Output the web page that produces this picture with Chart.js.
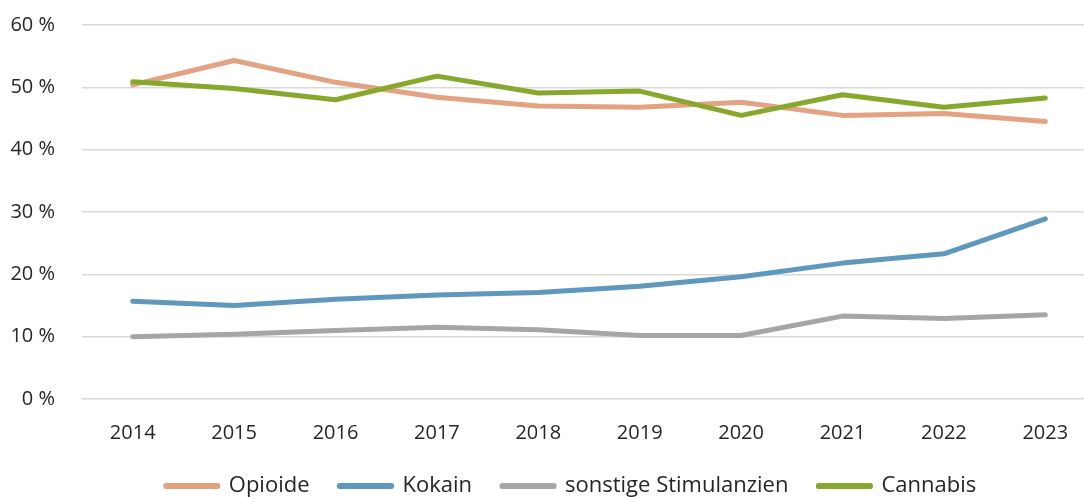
<!DOCTYPE html>
<html>
<head>
<meta charset="utf-8">
<script src="https://cdn.jsdelivr.net/npm/chart.js@4/dist/chart.umd.min.js"></script>
<style>
  html, body { margin: 0; padding: 0; background: #fff; overflow: hidden; }
  #wrap { width: 1084px; height: 497px; overflow: hidden; position: relative; }
  canvas { display: block; }
</style>
</head>
<body>
<div id="wrap"><canvas id="c" width="1096" height="507"></canvas></div>
<script>
const years = ['2014','2015','2016','2017','2018','2019','2020','2021','2022','2023'];
const opioide = [50.4, 54.3, 50.8, 48.4, 47.0, 46.8, 47.6, 45.5, 45.8, 44.5];
const kokain = [15.7, 15.0, 16.0, 16.7, 17.1, 18.1, 19.6, 21.8, 23.3, 28.9];
const stimulanzien = [10.0, 10.4, 11.0, 11.5, 11.1, 10.2, 10.2, 13.3, 12.9, 13.5];
const cannabis = [50.9, 49.8, 48.0, 51.8, 49.1, 49.4, 45.5, 48.8, 46.8, 48.3];
const seriesNames = ['Opioide', 'Kokain', 'sonstige Stimulanzien', 'Cannabis'];
const seriesColors = ['#E3A382', '#5F98BE', '#A6A6A6', '#87A82C'];
const yTicks = [0, 10, 20, 30, 40, 50, 60];

const FONT = '"Open Sans", "Noto Sans", sans-serif';
const seriesData = [opioide, kokain, stimulanzien, cannabis];
const drawOrder = [1, 3, 2, 0];

const datasets = seriesNames.map((name, i) => ({
  label: name,
  data: seriesData[i],
  borderColor: seriesColors[i],
  backgroundColor: seriesColors[i],
  borderWidth: 5,
  borderCapStyle: 'round',
  borderJoinStyle: 'round',
  pointRadius: 0,
  pointHoverRadius: 0,
  tension: 0,
  fill: false,
  order: drawOrder[i]
}));

const legendShift = {
  id: 'legendShift',
  afterLayout(chart) {
    const lg = chart.legend;
    if (lg) { lg.left += 23; lg.right += 23; }
  }
};

new Chart(document.getElementById('c'), {
  type: 'line',
  data: { labels: years, datasets },
  plugins: [legendShift],
  options: {
    responsive: false,
    animation: false,
    devicePixelRatio: 1,
    layout: { padding: { top: 25, left: 0, right: 0, bottom: 0 } },
    plugins: {
      tooltip: { enabled: false },
      legend: {
        position: 'bottom',
        labels: {
          boxWidth: 52,
          boxHeight: 1,
          padding: 30,
          color: '#262626',
          font: { family: FONT, size: 22 },
          sort: (a, b) => a.datasetIndex - b.datasetIndex,
          generateLabels: (chart) => chart.data.datasets.map((ds, i) => ({
            text: ds.label,
            fillStyle: ds.borderColor,
            strokeStyle: ds.borderColor,
            lineWidth: 5,
            lineCap: 'round',
            lineJoin: 'round',
            datasetIndex: i,
            hidden: false,
            fontColor: '#262626'
          }))
        }
      }
    },
    scales: {
      x: {
        offset: true,
        afterFit: (scale) => { scale.height = 46; },
        grid: { display: false, drawTicks: false },
        border: { display: false },
        ticks: {
          padding: 22,
          color: '#262626',
          font: { family: FONT, size: 20 },
          maxRotation: 0,
          autoSkip: false
        }
      },
      y: {
        min: 0,
        max: 60,
        afterBuildTicks: (scale) => { scale.ticks = yTicks.map(v => ({ value: v })); },
        afterFit: (scale) => { scale.width = 82; scale.paddingTop = 0; scale.paddingBottom = 0; },
        grid: { color: '#D9D9D9', lineWidth: 1.5, drawTicks: false },
        border: { display: false },
        ticks: {
          padding: 27,
          color: '#262626',
          font: { family: FONT, size: 20 },
          callback: (v) => v + ' %'
        }
      }
    }
  }
});
</script>
</body>
</html>
